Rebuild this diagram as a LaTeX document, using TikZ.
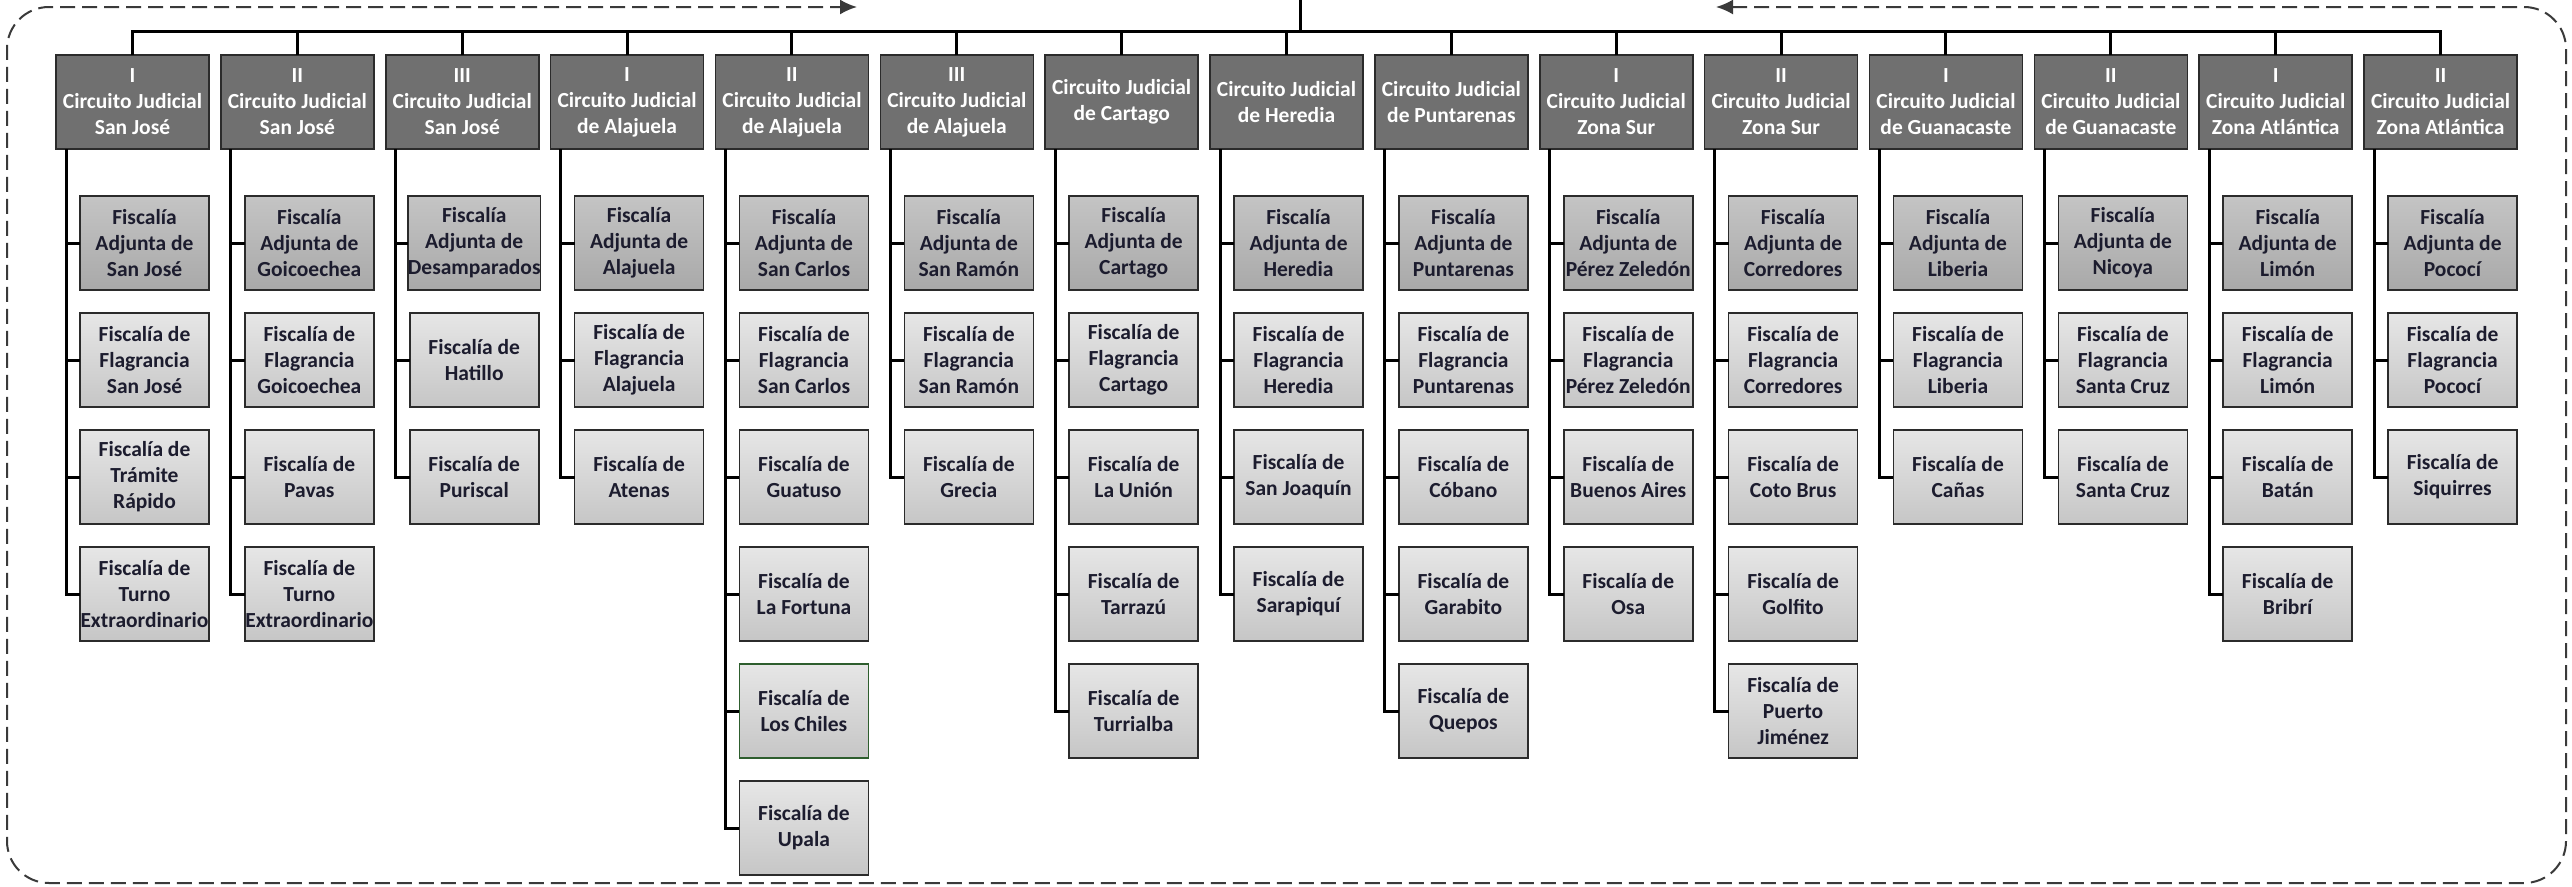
\documentclass[tikz,border=0pt]{standalone}
\usepackage{fontspec}
\setmainfont{Carlito}
\usetikzlibrary{arrows.meta}
\definecolor{parentfill}{HTML}{707070}
\definecolor{boxline}{HTML}{2B2B2B}
\definecolor{kidtop}{HTML}{E6E6E6}
\definecolor{kidbot}{HTML}{C6C6C6}
\definecolor{adjtop}{HTML}{C4C4C4}
\definecolor{adjbot}{HTML}{A9A9A9}
\definecolor{kidtext}{HTML}{1C1C2E}
\definecolor{borderc}{HTML}{3A3A3A}
\definecolor{losgreen}{HTML}{2E5E2E}
\begin{document}
\begin{tikzpicture}[x=1pt,y=-1pt,
  parentbox/.style={draw=boxline, line width=1.6pt, fill=parentfill, text=white,
    font=\bfseries\fontsize{21.5}{26}\selectfont, align=center,
    minimum width=153pt, minimum height=94pt, inner sep=0pt, outer sep=0pt},
  kidbox/.style={draw=boxline, line width=1.6pt, top color=kidtop, bottom color=kidbot,
    text=kidtext, font=\bfseries\fontsize{21.5}{26}\selectfont, align=center,
    minimum width=129pt, minimum height=94pt, inner sep=0pt, outer sep=0pt},
  adjbox/.style={kidbox, top color=adjtop, bottom color=adjbot},
  conn/.style={line width=3pt, black, line join=miter},
  border/.style={draw=borderc, line width=2pt, dash pattern=on 15pt off 7pt,
    rounded corners=42pt, {Latex[length=17pt,width=15pt]}-{Latex[length=17pt,width=15pt]}}]
\useasboundingbox (0,0) rectangle (2572,886);
\fill[white] (0,0) rectangle (2572,886);

\coordinate (trunktop) at (1300,0);
\coordinate (bar) at (1300,31);
\draw[conn] (trunktop) -- (bar);

\foreach \i/\pt/\kids in {
 0/{I\\Circuito Judicial\\San José}/{{Fiscalía\\Adjunta de\\San José},{Fiscalía de\\Flagrancia\\San José},{Fiscalía de\\Trámite\\Rápido},{Fiscalía de\\Turno\\Extraordinario}},
 1/{II\\Circuito Judicial\\San José}/{{Fiscalía\\Adjunta de\\Goicoechea},{Fiscalía de\\Flagrancia\\Goicoechea},{Fiscalía de\\Pavas},{Fiscalía de\\Turno\\Extraordinario}},
 2/{III\\Circuito Judicial\\San José}/{{Fiscalía\\Adjunta de\\Desamparados},{Fiscalía de\\Hatillo},{Fiscalía de\\Puriscal}},
 3/{I\\Circuito Judicial\\de Alajuela}/{{Fiscalía\\Adjunta de\\Alajuela},{Fiscalía de\\Flagrancia\\Alajuela},{Fiscalía de\\Atenas}},
 4/{II\\Circuito Judicial\\de Alajuela}/{{Fiscalía\\Adjunta de\\San Carlos},{Fiscalía de\\Flagrancia\\San Carlos},{Fiscalía de\\Guatuso},{Fiscalía de\\La Fortuna},{Fiscalía de\\Los Chiles},{Fiscalía de\\Upala}},
 5/{III\\Circuito Judicial\\de Alajuela}/{{Fiscalía\\Adjunta de\\San Ramón},{Fiscalía de\\Flagrancia\\San Ramón},{Fiscalía de\\Grecia}},
 6/{Circuito Judicial\\de Cartago}/{{Fiscalía\\Adjunta de\\Cartago},{Fiscalía de\\Flagrancia\\Cartago},{Fiscalía de\\La Unión},{Fiscalía de\\Tarrazú},{Fiscalía de\\Turrialba}},
 7/{Circuito Judicial\\de Heredia}/{{Fiscalía\\Adjunta de\\Heredia},{Fiscalía de\\Flagrancia\\Heredia},{Fiscalía de\\San Joaquín},{Fiscalía de\\Sarapiquí}},
 8/{Circuito Judicial\\de Puntarenas}/{{Fiscalía\\Adjunta de\\Puntarenas},{Fiscalía de\\Flagrancia\\Puntarenas},{Fiscalía de\\Cóbano},{Fiscalía de\\Garabito},{Fiscalía de\\Quepos}},
 9/{I\\Circuito Judicial\\Zona Sur}/{{Fiscalía\\Adjunta de\\Pérez Zeledón},{Fiscalía de\\Flagrancia\\Pérez Zeledón},{Fiscalía de\\Buenos Aires},{Fiscalía de\\Osa}},
 10/{II\\Circuito Judicial\\Zona Sur}/{{Fiscalía\\Adjunta de\\Corredores},{Fiscalía de\\Flagrancia\\Corredores},{Fiscalía de\\Coto Brus},{Fiscalía de\\Golfito},{Fiscalía de\\Puerto\\Jiménez}},
 11/{I\\Circuito Judicial\\de Guanacaste}/{{Fiscalía\\Adjunta de\\Liberia},{Fiscalía de\\Flagrancia\\Liberia},{Fiscalía de\\Cañas}},
 12/{II\\Circuito Judicial\\de Guanacaste}/{{Fiscalía\\Adjunta de\\Nicoya},{Fiscalía de\\Flagrancia\\Santa Cruz},{Fiscalía de\\Santa Cruz}},
 13/{I\\Circuito Judicial\\Zona Atlántica}/{{Fiscalía\\Adjunta de\\Limón},{Fiscalía de\\Flagrancia\\Limón},{Fiscalía de\\Batán},{Fiscalía de\\Bribrí}},
 14/{II\\Circuito Judicial\\Zona Atlántica}/{{Fiscalía\\Adjunta de\\Pococí},{Fiscalía de\\Flagrancia\\Pococí},{Fiscalía de\\Siquirres}}}
{
  \pgfmathsetmacro\px{132.5+164.86*\i}
  \pgfmathsetmacro\cx{144.5+164.86*\i}
  \node[parentbox] (p\i) at (\px,102) {\pt};
  \draw[conn] (p\i.north) |- (bar);
  \foreach \t [count=\k from 0] in \kids {
    \pgfmathsetmacro\cy{243+117*\k}
    \ifnum\k=0
      \node[adjbox] (c\i-\k) at (\cx,\cy) {\t};
    \else
      \node[kidbox] (c\i-\k) at (\cx,\cy) {\t};
    \fi
    \draw[conn] ([xshift=10pt]p\i.south west) |- (c\i-\k.west);
  }
}

\draw[losgreen, line width=1.4pt] (c4-4.north west) rectangle (c4-4.south east);

\coordinate (arrR) at (1716,7);
\coordinate (arrL) at (857,7);
\draw[border] (arrR) -- (2566,7) -- (2566,883) -- (7,883) -- (7,7) -- (arrL);
\end{tikzpicture}
\end{document}
